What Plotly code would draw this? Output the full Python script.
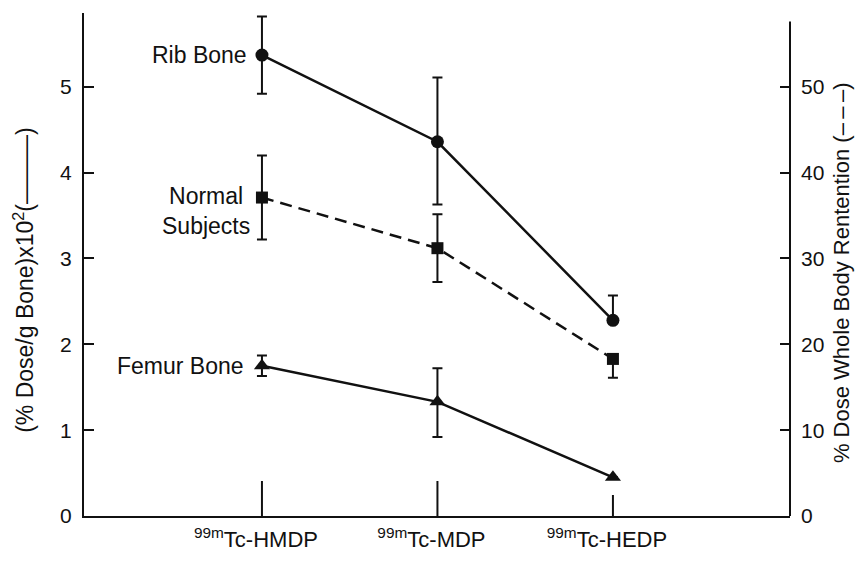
import plotly.graph_objects as go

# ---- data ----
agents = ["<sup>99m</sup>Tc-HMDP", "<sup>99m</sup>Tc-MDP", "<sup>99m</sup>Tc-HEDP"]

rib_bone = [5.37, 4.36, 2.28]          # % dose/g bone x10^2 (left axis)
rib_err_plus = [0.45, 0.75, 0.29]
rib_err_minus = [0.45, 0.73, 0.0]

normal_subjects = [37.1, 31.2, 18.3]   # % dose whole body retention (right axis)
normal_err_plus = [4.9, 3.95, 0.0]
normal_err_minus = [4.9, 3.95, 2.2]

femur_bone = [1.75, 1.33, 0.45]        # % dose/g bone x10^2 (left axis)
femur_err_plus = [0.12, 0.39, 0.0]
femur_err_minus = [0.12, 0.41, 0.0]

left_ticks = [0, 1, 2, 3, 4, 5]
right_ticks = [0, 10, 20, 30, 40, 50]

FONT = "Liberation Sans"
BLACK = "#111111"

fig = go.Figure()

def err(plus, minus):
    return dict(type="data", array=plus, arrayminus=minus, symmetric=False,
                color=BLACK, thickness=2, width=5, visible=True)

fig.add_trace(go.Scatter(
    x=agents, y=rib_bone, mode="lines+markers", name="Rib Bone",
    line=dict(color=BLACK, width=2.5),
    marker=dict(symbol="circle", size=13, color=BLACK),
    error_y=err(rib_err_plus, rib_err_minus), yaxis="y"))

fig.add_trace(go.Scatter(
    x=agents, y=normal_subjects, mode="lines+markers", name="Normal Subjects",
    line=dict(color=BLACK, width=2.5, dash="12px,7px"),
    marker=dict(symbol="square", size=12, color=BLACK),
    error_y=err(normal_err_plus, normal_err_minus), yaxis="y2"))

fig.add_trace(go.Scatter(
    x=agents, y=femur_bone, mode="lines+markers", name="Femur Bone",
    line=dict(color=BLACK, width=2.5),
    marker=dict(symbol="triangle-up", size=14, color=BLACK),
    error_y=err(femur_err_plus, femur_err_minus), yaxis="y"))

# series labels next to the first point of each series
fig.add_annotation(x=agents[0], y=rib_bone[0], xref="x", yref="y", text="Rib Bone",
                   showarrow=False, xanchor="right", yanchor="middle", xshift=-13,
                   font=dict(family=FONT, size=23, color=BLACK))
fig.add_annotation(x=agents[0], y=normal_subjects[0], xref="x", yref="y2",
                   text="Normal<br>Subjects", align="center",
                   showarrow=False, xanchor="right", yanchor="middle", xshift=-10, yshift=-13,
                   font=dict(family=FONT, size=23, color=BLACK))
fig.add_annotation(x=agents[0], y=femur_bone[0], xref="x", yref="y", text="Femur Bone",
                   showarrow=False, xanchor="right", yanchor="middle", xshift=-16,
                   font=dict(family=FONT, size=23, color=BLACK))

# axis titles
fig.add_annotation(x=-0.086, y=0.47, xref="paper", yref="paper",
                   text="(% Dose/g Bone)x10<sup>2</sup>(\u2014\u2014\u2014)", textangle=-90,
                   showarrow=False, xanchor="center", yanchor="middle",
                   font=dict(family=FONT, size=23, color=BLACK))
fig.add_annotation(x=1.073, y=0.484, xref="paper", yref="paper",
                   text="% Dose Whole Body Rentention (\u2013\u2009\u2013\u2009\u2013)", textangle=-90,
                   showarrow=False, xanchor="center", yanchor="middle",
                   font=dict(family=FONT, size=22, color=BLACK))

# tick marks rising from the category axis
tick_len_px = [35, 35, 21]
for a, L in zip(agents, tick_len_px):
    fig.add_shape(type="line", xref="x", yref="y", x0=a, x1=a,
                  ysizemode="pixel", yanchor=0, y0=0, y1=L,
                  line=dict(color=BLACK, width=2))

# right axis line (shorter than plot height)
fig.add_shape(type="line", xref="paper", yref="y2", x0=1, x1=1, y0=0, y1=57.6,
              line=dict(color=BLACK, width=2))

fig.update_layout(
    width=857, height=564,
    margin=dict(l=84, r=67, t=13, b=32),
    paper_bgcolor="white", plot_bgcolor="white",
    showlegend=False,
    font=dict(family=FONT, color=BLACK),
    xaxis=dict(type="category", range=[-1.014, 3.009], showgrid=False, zeroline=False,
               showline=True, linecolor=BLACK, linewidth=2, ticks="",
               tickfont=dict(family=FONT, size=22, color=BLACK), ticklabelstandoff=3,
               ticklabelshift=-6),
    yaxis=dict(range=[0, 5.86], tickvals=left_ticks, showgrid=False, zeroline=False,
               showline=True, linecolor=BLACK, linewidth=2,
               ticks="inside", ticklen=10, tickwidth=2, tickcolor=BLACK,
               tickfont=dict(family=FONT, size=21, color=BLACK), ticklabelstandoff=6),
    yaxis2=dict(range=[0, 58.6], tickvals=right_ticks, overlaying="y", side="right",
                showgrid=False, zeroline=False, showline=False,
                ticks="inside", ticklen=10, tickwidth=2, tickcolor=BLACK,
                tickfont=dict(family=FONT, size=21, color=BLACK), ticklabelstandoff=10),
)

fig.write_html("out.html")
